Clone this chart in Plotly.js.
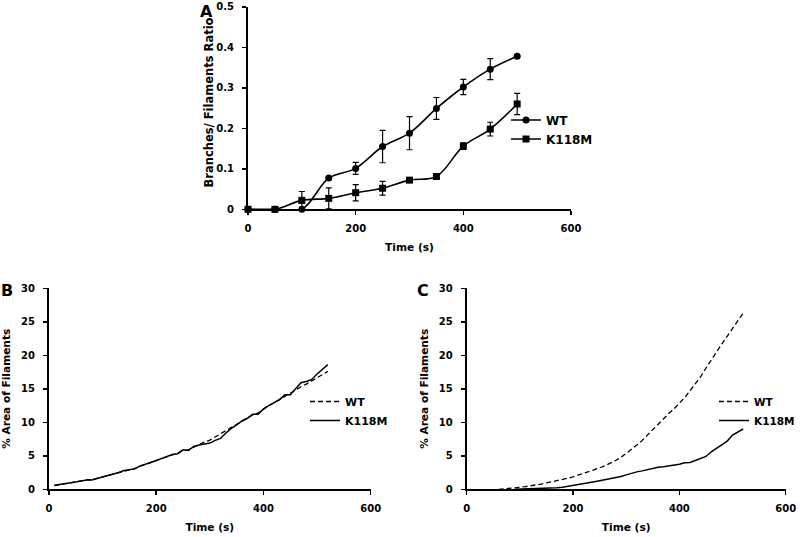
<!DOCTYPE html>
<html>
<head>
<meta charset="utf-8">
<script src="https://cdn.plot.ly/plotly-3.0.1.min.js"></script>
<style>html,body{margin:0;padding:0;background:#fff;overflow:hidden;width:800px;height:537px;}#chart{width:800px;height:537px;overflow:hidden;}</style>
</head>
<body>
<div id="chart"></div>
<script>
// Panel A: branches / filaments ratio
const timeA = [0, 50, 100, 150, 200, 250, 300, 350, 400, 450, 500];
const wtA = [0, 0, 0, 0.077, 0.101, 0.155, 0.188, 0.249, 0.302, 0.346, 0.378];
const wtAErr = [0, 0, 0, 0.003, 0.015, 0.040, 0.041, 0.027, 0.019, 0.026, 0.003];
const mutA = [0, 0, 0.022, 0.027, 0.041, 0.052, 0.072, 0.081, 0.156, 0.198, 0.260];
const mutAErr = [0, 0, 0.022, 0.026, 0.020, 0.017, 0.003, 0.003, 0.008, 0.017, 0.026];

// Panel B: % area of filaments
const timeB = [10,20,30,40,50,60,70,80,90,100,110,120,130,140,150,160,170,180,190,200,210,220,230,240,250,260,270,280,290,300,310,320,330,340,350,360,370,380,390,400,410,420,430,440,450,460,470,480,490,500,510,520];
const wtB = [0.55,0.7,0.85,1.0,1.15,1.3,1.4,1.45,1.65,1.85,2.05,2.3,2.55,2.75,2.95,3.1,3.45,3.75,4.0,4.25,4.55,4.9,5.15,5.4,5.8,5.9,6.3,6.75,7.05,7.35,7.8,8.25,8.7,9.2,9.7,10.2,10.7,11.1,11.4,12.0,12.5,12.9,13.4,13.9,14.3,14.8,15.3,15.7,16.2,16.6,17.1,17.6];
const mutB = [0.6,0.7,0.85,1.0,1.1,1.25,1.4,1.4,1.6,1.8,2.0,2.25,2.5,2.8,2.9,3.05,3.5,3.7,4.0,4.3,4.6,4.9,5.2,5.3,5.9,5.8,6.4,6.6,6.7,6.9,7.3,7.6,8.4,9.1,9.6,10.2,10.6,11.2,11.2,12.0,12.5,12.9,13.4,14.1,14.1,15.0,15.9,16.1,16.4,17.2,17.9,18.6];

// Panel C: % area of filaments
const timeCwt = [60,70,80,90,100,110,120,130,140,150,160,170,180,190,200,210,220,230,240,250,260,270,280,290,300,310,320,330,340,350,360,370,380,390,400,410,420,430,440,450,460,470,480,490,500,510,520];
const wtC = [0,0.05,0.12,0.2,0.3,0.4,0.5,0.62,0.78,0.95,1.1,1.3,1.45,1.65,1.85,2.1,2.35,2.6,2.9,3.2,3.5,3.85,4.3,4.75,5.35,5.95,6.6,7.3,8.1,8.9,9.75,10.6,11.3,12.0,12.8,13.7,14.7,15.7,16.8,18.1,19.4,20.5,21.7,22.9,24.0,25.2,26.3];
const timeCmut = [90,100,110,120,130,140,150,160,170,180,190,200,210,220,230,240,250,260,270,280,290,300,310,320,330,340,350,360,370,380,390,400,410,420,430,440,450,460,470,480,490,500,510,520];
const mutC = [0,0.02,0.03,0.05,0.07,0.1,0.13,0.17,0.22,0.3,0.42,0.55,0.68,0.82,0.98,1.12,1.27,1.42,1.58,1.75,1.92,2.15,2.4,2.6,2.75,2.95,3.1,3.3,3.35,3.45,3.6,3.75,3.95,4.0,4.3,4.55,4.9,5.6,6.1,6.6,7.2,8.1,8.6,9.0];

const seriesNames = ['WT', 'K118M'];
const panelLetters = ['A', 'B', 'C'];
const titleA = 'Branches/ Filaments Ratio';
const titleArea = '% Area of Filaments';
const titleTime = 'Time (s)';

const FONT = 'DejaVu Sans, Liberation Sans, Arial, sans-serif';
const tickFont = {family: FONT, size: 10, color: '#000', weight: 'bold'};
const titleFont = {family: FONT, size: 10.6, color: '#000', weight: 'bold'};
const titleFontA = {family: FONT, size: 11.5, color: '#000', weight: 'bold'};

const traces = [
  {x: timeA, y: wtA, name: seriesNames[0], type: 'scatter', mode: 'lines+markers',
   xaxis: 'x', yaxis: 'y', legend: 'legend', cliponaxis: false,
   line: {color: '#000', width: 1.6, shape: 'spline', smoothing: 1},
   marker: {symbol: 'circle', size: 7, color: '#000'},
   error_y: {type: 'data', array: wtAErr, visible: true, color: '#000', thickness: 1.2, width: 3}},
  {x: timeA, y: mutA, name: seriesNames[1], type: 'scatter', mode: 'lines+markers',
   xaxis: 'x', yaxis: 'y', legend: 'legend', cliponaxis: false,
   line: {color: '#000', width: 1.6, shape: 'spline', smoothing: 1},
   marker: {symbol: 'square', size: 7, color: '#000'},
   error_y: {type: 'data', array: mutAErr, visible: true, color: '#000', thickness: 1.2, width: 3}},
  {x: timeB, y: wtB, name: seriesNames[0], type: 'scatter', mode: 'lines',
   xaxis: 'x2', yaxis: 'y2', legend: 'legend2',
   line: {color: '#000', width: 1.3, dash: '5px,3px'}},
  {x: timeB, y: mutB, name: seriesNames[1], type: 'scatter', mode: 'lines',
   xaxis: 'x2', yaxis: 'y2', legend: 'legend2',
   line: {color: '#000', width: 1.5}},
  {x: timeCwt, y: wtC, name: seriesNames[0], type: 'scatter', mode: 'lines',
   xaxis: 'x3', yaxis: 'y3', legend: 'legend3',
   line: {color: '#000', width: 1.3, dash: '5px,3px'}},
  {x: timeCmut, y: mutC, name: seriesNames[1], type: 'scatter', mode: 'lines',
   xaxis: 'x3', yaxis: 'y3', legend: 'legend3',
   line: {color: '#000', width: 1.5}}
];

function xAxis(domain, anchor) {
  return {
    domain: domain, anchor: anchor, range: [0, 600], dtick: 200, tick0: 0,
    showgrid: false, zeroline: false, showline: true, linecolor: '#000', linewidth: 2,
    ticks: 'outside', ticklen: 4, tickwidth: 1.5, tickcolor: '#000', ticklabelstandoff: 5,
    tickfont: tickFont, automargin: false,
    title: {text: titleTime, font: titleFont, standoff: 10}
  };
}
function yAxis(domain, anchor, range, dtick, title, tf, standoff) {
  return {
    domain: domain, anchor: anchor, range: range, dtick: dtick, tick0: 0,
    showgrid: false, zeroline: false, showline: true, linecolor: '#000', linewidth: 2,
    ticks: 'outside', ticklen: 4, tickwidth: 1.5, tickcolor: '#000', ticklabelstandoff: 6,
    tickfont: tickFont, automargin: false,
    title: {text: title, font: tf, standoff: standoff}
  };
}

const H = 537, W = 800;
const legendFontA = {family: FONT, size: 12, color: '#000', weight: 'bold'};
const legendFontB = {family: FONT, size: 11, color: '#000', weight: 'bold'};
const legendFontC = {family: FONT, size: 10.5, color: '#000', weight: 'bold'};
const letterFont = {family: FONT, size: 16, weight: 'bold', color: '#000'};

function legendAt(px, py, font, xanchor) {
  return {x: px / W, y: (H - py) / H, xanchor: xanchor, yanchor: 'top', font: font,
          bgcolor: 'rgba(0,0,0,0)', itemwidth: 30, tracegroupgap: 0};
}

const layout = {
  width: W, height: H,
  margin: {l: 0, r: 0, t: 0, b: 0},
  paper_bgcolor: '#fff', plot_bgcolor: '#fff',
  font: {family: FONT, color: '#000'},
  showlegend: true,
  xaxis: xAxis([248 / W, 571 / W], 'y'),
  yaxis: yAxis([(H - 209.3) / H, (H - 6.8) / H], 'x', [0, 0.5], 0.1, '', titleFontA, 6),
  xaxis2: xAxis([49 / W, 370.7 / W], 'y2'),
  yaxis2: yAxis([(H - 489.3) / H, (H - 288.3) / H], 'x2', [0, 30], 5, titleArea, titleFont, 8),
  xaxis3: xAxis([466.7 / W, 785.7 / W], 'y3'),
  yaxis3: yAxis([(H - 489.3) / H, (H - 288.3) / H], 'x3', [0, 30], 5, titleArea, titleFont, 8),
  legend: legendAt(506, 105.5, legendFontA, 'left'),
  legend2: legendAt(305, 387, legendFontB, 'left'),
  legend3: legendAt(800, 387, legendFontC, 'right'),
  annotations: [
    {text: titleA, xref: 'paper', yref: 'paper', x: 208 / W, y: (H - 102.5) / H,
     xanchor: 'center', yanchor: 'middle', textangle: -90, showarrow: false, font: titleFontA},
    {text: panelLetters[0], xref: 'paper', yref: 'paper', x: 206 / W, y: 1,
     xanchor: 'center', yanchor: 'top', showarrow: false, font: letterFont},
    {text: panelLetters[1], xref: 'paper', yref: 'paper', x: 7 / W, y: (H - 290) / H,
     xanchor: 'center', yanchor: 'middle', showarrow: false, font: letterFont},
    {text: panelLetters[2], xref: 'paper', yref: 'paper', x: 423 / W, y: (H - 290) / H,
     xanchor: 'center', yanchor: 'middle', showarrow: false, font: letterFont}
  ]
};

Plotly.newPlot('chart', traces, layout, {staticPlot: true, displayModeBar: false});
</script>
</body>
</html>
